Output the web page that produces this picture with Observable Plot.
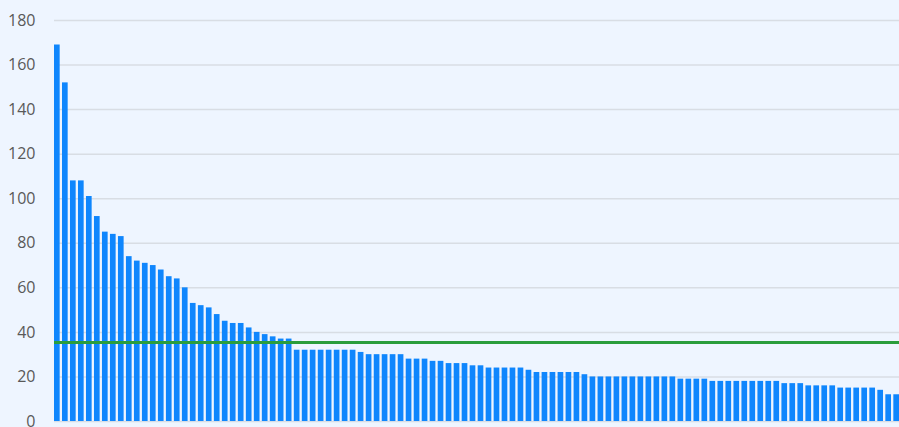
<!DOCTYPE html>
<html>
<head>
<meta charset="utf-8">
<script src="https://cdn.jsdelivr.net/npm/d3@7"></script>
<script src="https://cdn.jsdelivr.net/npm/@observablehq/plot@0.6"></script>
<style>
  html, body { margin: 0; padding: 0; background: #eef5ff; overflow: hidden; }
  #chart svg { display: block; }
</style>
</head>
<body>
<div id="chart"></div>
<script>
const values = [
  169,152,108,108,101,92,85,84,83,74,72,71,70,68,65,64,60,53,52,51,48,45,44,44,42,40,39,38,37,37,
  32,32,32,32,32,32,32,32,31,30,30,30,30,30,28,28,28,27,27,26,26,26,25,25,24,24,24,24,24,23,
  22,22,22,22,22,22,21,20,20,20,20,20,20,20,20,20,20,20,19,19,19,19,18,18,18,18,18,18,18,18,18,
  17,17,17,16,16,16,16,15,15,15,15,15,14,12,12
];
const categories = values.map((_, i) => i + 1);
const averageLine = 35.5;
const yTicks = [0, 20, 40, 60, 80, 100, 120, 140, 160, 180];

const data = categories.map((c, i) => ({category: c, value: values[i]}));

const chart = Plot.plot({
  width: 899,
  height: 427,
  marginLeft: 54,
  marginRight: 0,
  marginTop: 20,
  marginBottom: 6,
  style: {background: "#eef5ff", fontFamily: "'Open Sans', sans-serif", overflow: "visible"},
  x: {domain: categories, paddingInner: 0.29, paddingOuter: 0, axis: null},
  y: {domain: [0, 180], ticks: yTicks, label: null},
  marks: [
    Plot.gridY(yTicks, {stroke: "#d8dde4", strokeOpacity: 1, strokeWidth: 1.5}),
    Plot.axisY(yTicks, {tickSize: 0, tickPadding: 19, fontSize: 16, fill: "#595959", label: null}),
    Plot.barY(data, {x: "category", y: "value", fill: "#0f86fd"}),
    Plot.ruleY([averageLine], {stroke: "#2a9d3c", strokeWidth: 3})
  ]
});
document.getElementById("chart").appendChild(chart);
</script>
</body>
</html>
